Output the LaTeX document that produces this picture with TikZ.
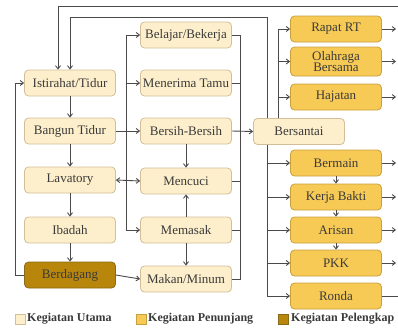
\documentclass[tikz,border=0pt]{standalone}
\usepackage{fontspec}
\setmainfont{Liberation Serif}
\usetikzlibrary{arrows.meta,calc}
\definecolor{cream}{HTML}{FDEFCB}
\definecolor{creamline}{HTML}{D2BE98}
\definecolor{yel}{HTML}{F7CA55}
\definecolor{yelline}{HTML}{C9A040}
\definecolor{brn}{HTML}{B8860B}
\definecolor{brnline}{HTML}{8A6A14}
\definecolor{ink}{HTML}{3A3A3A}
\definecolor{wire}{HTML}{4A4A4A}
\tikzset{
  box/.style={draw, rounded corners=4pt, line width=0.8pt, minimum width=91pt, minimum height=26pt,
    inner sep=1pt, font=\fontsize{13}{12}\selectfont, text=ink, align=center},
  utama/.style={box, fill=cream, draw=creamline},
  tunjang/.style={box, fill=yel, draw=yelline},
  lengkap/.style={box, fill=brn, draw=brnline},
  wireline/.style={draw=wire, line width=0.9pt},
  arr/.style={wireline, -{Straight Barb[length=3.2pt,width=5pt]}},
  darr/.style={wireline, {Straight Barb[length=3.2pt,width=5pt]}-{Straight Barb[length=3.2pt,width=5pt]}},
  legsq/.style={minimum size=10pt, inner sep=0pt, line width=0.4pt},
  legtxt/.style={anchor=west, inner sep=0pt, font=\fontsize{12}{12}\selectfont\bfseries, text=ink}
}
\begin{document}
\begin{tikzpicture}[x=1pt,y=-1pt]
\useasboundingbox (0,0) rectangle (398,332);
% left column
\node[utama] (ist) at (70,83) {Istirahat/Tidur};
\node[utama] (bangun) at (70,131) {Bangun Tidur};
\node[utama] (lav) at (70,180) {Lavatory};
\node[utama] (ibadah) at (70,230) {Ibadah};
\node[lengkap] (dagang) at (70,275) {Berdagang};
% middle column
\node[utama] (belajar) at (186,35) {Belajar/Bekerja};
\node[utama] (tamu) at (186,83) {Menerima Tamu};
\node[utama] (bersih) at (186,131) {Bersih-Bersih};
\node[utama] (cuci) at (186,181) {Mencuci};
\node[utama] (masak) at (186,230) {Memasak};
\node[utama] (makan) at (186,279) {Makan/Minum};
% bersantai
\node[utama] (santai) at (299,131.5) {Bersantai};
% right column
\node[tunjang] (rapat) at (336,29) {Rapat RT};
\node[tunjang, minimum height=29pt, font=\fontsize{13}{11.5}\selectfont] (olah) at (336,61.5) {Olahraga\\Bersama};
\node[tunjang] (hajat) at (336,97) {Hajatan};
\node[tunjang] (main) at (336,163) {Bermain};
\node[tunjang] (kerja) at (336,197) {Kerja Bakti};
\node[tunjang] (arisan) at (336,230) {Arisan};
\node[tunjang] (pkk) at (336,263) {PKK};
\node[tunjang] (ronda) at (336,296) {Ronda};
% helper coordinates
\coordinate (lx) at (126,0);
\coordinate (rx) at (240,0);
\coordinate (ux) at (278,0);
\coordinate (dx) at (267,0);
\coordinate (ex) at (396,0);
\coordinate (edge) at (398,0);
\coordinate (farl) at (15,0);
\coordinate (top1) at (0,6);
\coordinate (top2) at (0,17);
\coordinate (ia) at ($(ist.north)+(-12,0)$);
% left chain
\draw[arr] (ist) -- (bangun);
\draw[arr] (bangun) -- (lav);
\draw[arr] (lav) -- (ibadah);
\draw[arr] (ibadah) -- (dagang);
\draw[arr] (dagang.west) -- (farl |- dagang.west) -- (farl |- ist.west) -- (ist.west);
% to middle column
\draw[arr] (bangun.east) -- (bersih.west);
\draw[arr] (lx |- bersih.west) -- (lx |- belajar.west) -- (belajar.west);
\draw[arr] (lx |- tamu.west) -- (tamu.west);
\draw[arr] (lx |- bersih.west) -- (lx |- masak.west) -- (masak.west);
\draw[darr] (lav.east) -- (cuci.west);
\draw[arr] (bersih) -- (cuci);
\draw[arr] (masak) -- (cuci);
\draw[arr] (masak) -- (makan);
\draw[arr] (dagang.east) -- (makan.west);
% collector
\draw[wireline] (belajar.east) -- (rx |- belajar.east) -- (rx |- makan.east) -- (makan.east);
\draw[wireline] (tamu.east) -- (rx |- tamu.east);
\draw[wireline] (cuci.east) -- (rx |- cuci.east);
\draw[wireline] (masak.east) -- (rx |- masak.east);
\draw[arr] (bersih.east) -- (santai.west);
% bersantai up
\draw[arr] (ux |- santai.north) -- (ux |- rapat.west) -- (rapat.west);
\draw[arr] (ux |- olah.west) -- (olah.west);
\draw[arr] (ux |- hajat.west) -- (hajat.west);
% bersantai down
\draw[arr] (dx |- santai.south) -- (dx |- ronda.west) -- (ronda.west);
\draw[arr] (dx |- main.west) -- (main.west);
\draw[arr] (dx |- kerja.west) -- (kerja.west);
\draw[arr] (dx |- arisan.west) -- (arisan.west);
\draw[arr] (dx |- pkk.west) -- (pkk.west);
% small chain
\draw[arr] (main) -- (kerja);
\draw[arr] (kerja) -- (arisan);
\draw[arr] (arisan) -- (pkk);
% back to istirahat from bersantai
\draw[arr] (dx |- santai.north) -- (dx |- top2) -- (ist.north |- top2) -- (ist.north);
% outer loop
\draw[arr] (edge |- top1) -- (ia |- top1) -- (ia);
% right outputs
\foreach \n in {rapat,olah,hajat,main,kerja,arisan,pkk}{
  \draw[arr] (\n.east) -- (ex |- \n.east);
}
\draw[wireline] (ronda.east) -- (edge |- ronda.east);
% legend
\node[legsq, fill=cream, draw=creamline] (l1) at (20,319) {};
\node[legtxt] (t1) at (27,319) {Kegiatan Utama};
\node[legsq, fill=yel, draw=yelline] (l2) at (141,319) {};
\node[legtxt] (t2) at (148,319) {Kegiatan Penunjang};
\node[legsq, fill=brn, draw=brnline] (l3) at (283.5,319) {};
\node[legtxt] (t3) at (291,319) {Kegiatan Pelengkap};
\end{tikzpicture}
\end{document}
